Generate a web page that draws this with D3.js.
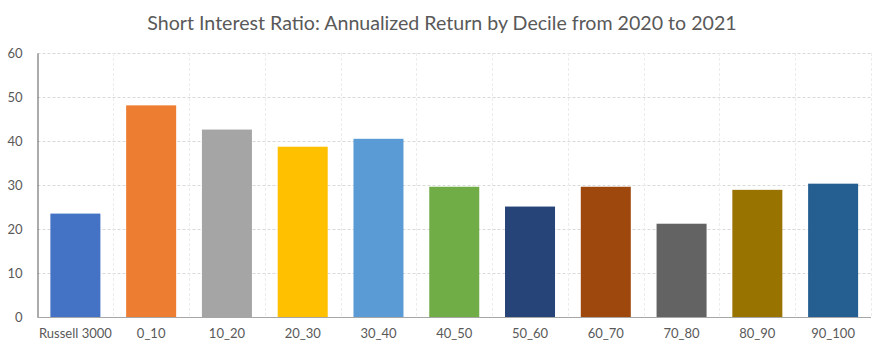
<!DOCTYPE html>
<html><head><meta charset="utf-8">
<script src="https://cdn.jsdelivr.net/npm/d3@7"></script>
<style>body{margin:0;background:#fff;} svg{display:block;font-family:Lato,"Open Sans",sans-serif;}</style>
</head><body>
<svg id="chart" width="885" height="354"></svg>
<script>
const categories = ["Russell 3000","0_10","10_20","20_30","30_40","40_50","50_60","60_70","70_80","80_90","90_100"];
const values = [23.5,48.1,42.6,38.7,40.5,29.6,25.1,29.6,21.2,28.9,30.3];
const colors = ["#4472C4","#ED7D31","#A5A5A5","#FFC000","#5B9BD5","#70AD47","#264478","#9E480E","#636363","#997300","#255E91"];
const yTicks = [0,10,20,30,40,50,60];
const title = "Short Interest Ratio: Annualized Return by Decile from 2020 to 2021";

const svg = d3.select("#chart");
const m = {left:37.5, right:871, top:53, bottom:317};
const x = d3.scaleBand().domain(categories).range([m.left,m.right]).paddingInner(0.34).paddingOuter(0.17);
const y = d3.scaleLinear().domain([0,60]).range([m.bottom,m.top]);

svg.append("text").attr("x",442).attr("y",30).attr("text-anchor","middle")
  .attr("font-size",19.6).attr("fill","#595959").text(title);

// horizontal gridlines
svg.append("g").selectAll("line").data(yTicks.filter(d=>d>0)).join("line")
  .attr("x1",m.left).attr("x2",m.right).attr("y1",d=>Math.round(y(d))+0.5).attr("y2",d=>Math.round(y(d))+0.5)
  .attr("stroke","#d9d9d9").attr("stroke-dasharray","3,2");
// vertical gridlines at category boundaries
const bounds = d3.range(1, categories.length+1).map(i => m.left + i*(m.right-m.left)/categories.length);
svg.append("g").selectAll("line").data(bounds).join("line")
  .attr("x1",d=>Math.round(d)+0.5).attr("x2",d=>Math.round(d)+0.5).attr("y1",m.top).attr("y2",m.bottom)
  .attr("stroke","#ececec").attr("stroke-dasharray","3,2");

// bars
svg.append("g").selectAll("rect").data(categories).join("rect")
  .attr("x",d=>x(d)).attr("width",x.bandwidth())
  .attr("y",(d,i)=>y(values[i])).attr("height",(d,i)=>y(0)-y(values[i]))
  .attr("fill",(d,i)=>colors[i]);

// axes
const yAxis = d3.axisLeft(y).tickValues(yTicks).tickSize(0).tickPadding(15);
const gy = svg.append("g").attr("transform",`translate(${m.left},0)`).call(yAxis);
gy.select(".domain").attr("stroke","#595959");
gy.selectAll("text").attr("font-size",13).attr("fill","#595959").attr("font-family","Lato,sans-serif");

const xAxis = d3.axisBottom(x).tickSize(0).tickPadding(12);
const gx = svg.append("g").attr("transform",`translate(0,${m.bottom})`).call(xAxis);
gx.select(".domain").attr("stroke","#a6a6a6").attr("d",`M${m.left},0.5H${m.right}`);
gx.selectAll("text").attr("font-size",13).attr("fill","#595959").attr("font-family","Lato,sans-serif");
</script>
</body></html>
